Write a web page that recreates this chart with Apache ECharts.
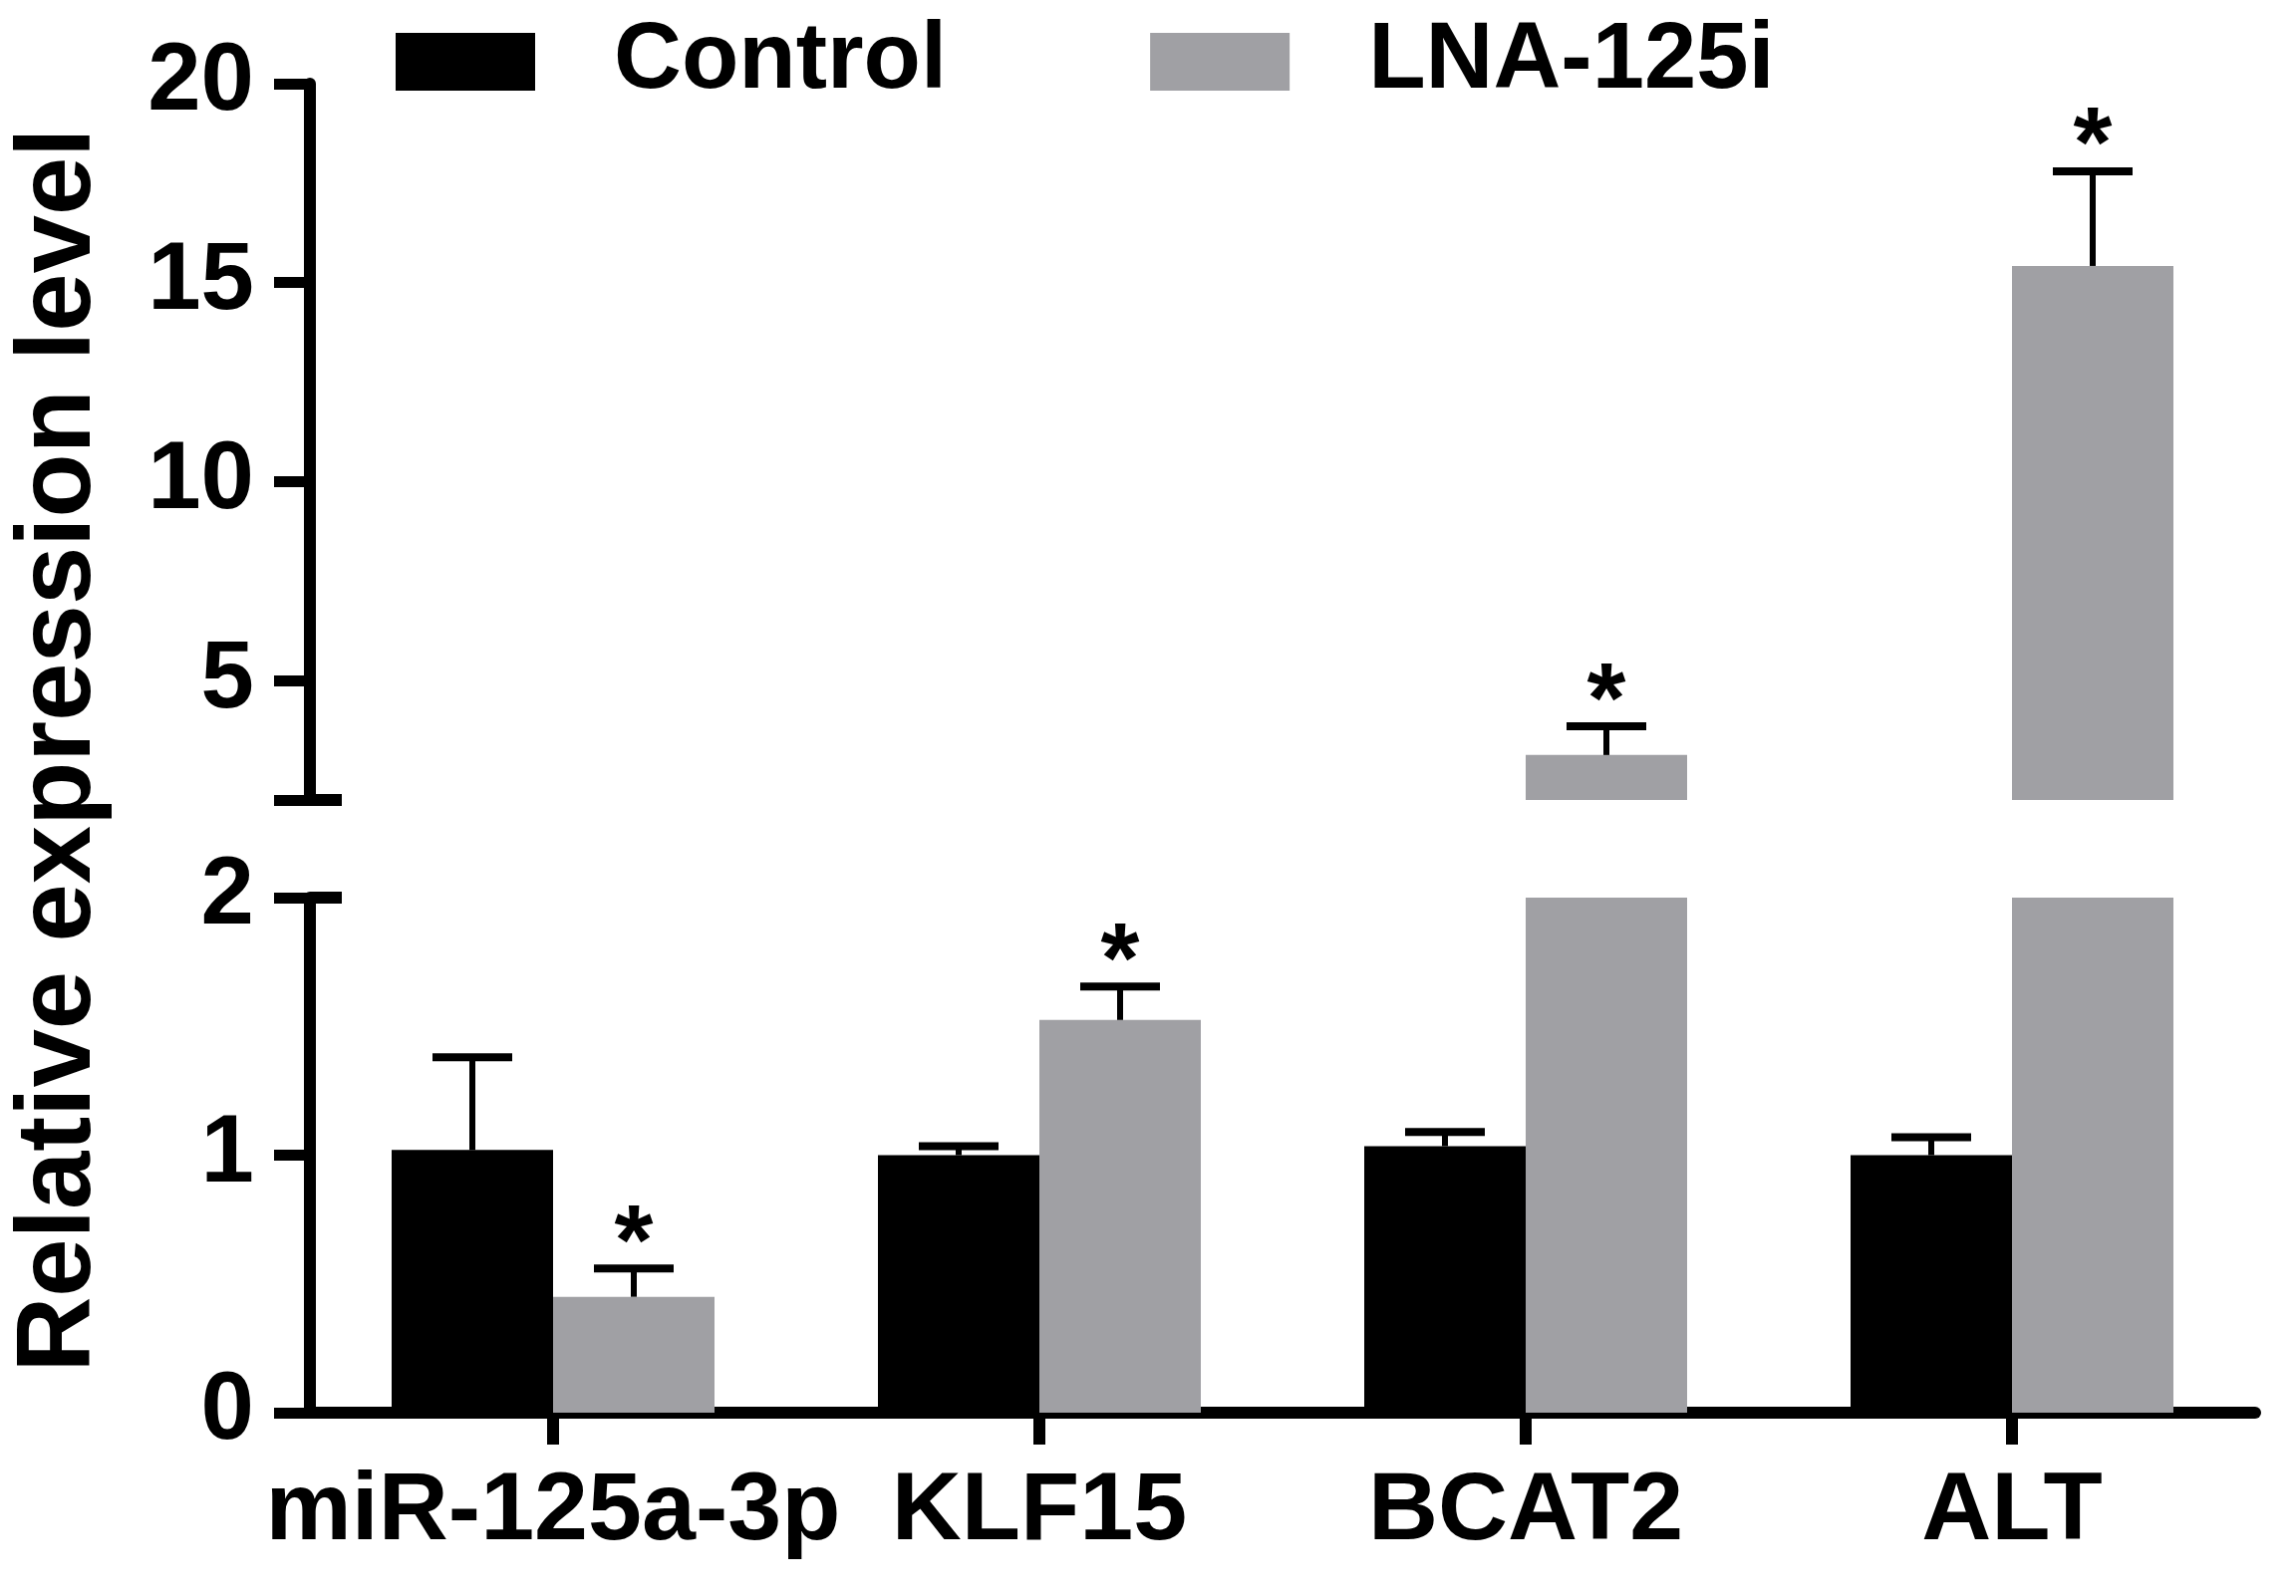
<!DOCTYPE html>
<html>
<head>
<meta charset="utf-8">
<script src="https://cdn.jsdelivr.net/npm/echarts@6/dist/echarts.min.js"></script>
<style>html,body{margin:0;padding:0;background:#fff;}#chart{width:2304px;height:1602px;}</style>
</head>
<body>
<div id="chart"></div>
<script>
// ---- data ----
const categories = ['miR-125a-3p', 'KLF15', 'BCAT2', 'ALT'];
const controlMean = [1.02, 1.00, 1.035, 1.00];
const controlErrTop = [1.38, 1.035, 1.09, 1.07];
const controlStar = [0, 0, 0, 0];
const lnaMean = [0.45, 1.525, 3.13, 15.42];
const lnaErrTop = [0.56, 1.655, 3.85, 17.8];
const lnaStar = [1, 1, 1, 1];
const lowerTicks = [0, 1, 2];
const upperTicks = [2, 5, 10, 15, 20];
const upperLabels = [5, 10, 15, 20];
const breakValue = 2;
const yName = 'Relative expression level';

// ---- style ----
const FONT = '"Liberation Sans", Arial, sans-serif';
const BLACK = '#000000';
const GRAY = '#a0a0a4';
const BAR_W = 162;
const GRID_L = 311, GRID_R = 41;

function barSeries(name, data, color, gi) {
  return {
    type: 'bar', name: name, data: data,
    xAxisIndex: gi, yAxisIndex: gi === 0 ? 0 : 2,
    barWidth: BAR_W, barGap: '0%',
    itemStyle: { color: color },
    clip: true, silent: true, animation: false
  };
}

function errSeries(means, tops, stars, sign, gi, yMin, yMax) {
  return {
    type: 'custom',
    xAxisIndex: gi, yAxisIndex: gi === 0 ? 0 : 2,
    data: categories.map((c, i) => [i, means[i], tops[i], stars[i]]),
    clip: false, silent: true, animation: false, z: 5,
    renderItem: function (params, api) {
      const i = api.value(0), m = api.value(1), e = api.value(2), s = api.value(3);
      if (m < yMin || e > yMax) return null;
      const p0 = api.coord([i, m]);
      const p1 = api.coord([i, e]);
      const x = p0[0] + sign * BAR_W / 2;
      const children = [
        { type: 'line', shape: { x1: x, y1: p0[1], x2: x, y2: p1[1] }, style: { stroke: BLACK, lineWidth: 6 } },
        { type: 'line', shape: { x1: x - 40, y1: p1[1], x2: x + 40, y2: p1[1] }, style: { stroke: BLACK, lineWidth: 8 } }
      ];
      if (s) {
        children.push({ type: 'text', x: x, y: p1[1] - 22, style: { text: '*', fill: BLACK, font: 'bold 100px ' + FONT, align: 'center', verticalAlign: 'middle' } });
      }
      return { type: 'group', children: children };
    }
  };
}

const chart = echarts.init(document.getElementById('chart'), null, { renderer: 'canvas' });
const labelStyle = { color: BLACK, fontFamily: FONT, fontWeight: 'bold', fontSize: 96 };

const option = {
  backgroundColor: '#fff',
  animation: false,
  legend: {
    left: 392, top: 10,
    itemWidth: 140, itemHeight: 58, itemGap: 204,
    icon: 'rect',
    data: ['Control', 'LNA-125i'],
    textStyle: { color: BLACK, fontFamily: FONT, fontWeight: 'bold', fontSize: 94, lineHeight: 58, padding: [0, 0, 0, 74] },
    selectedMode: false
  },
  grid: [
    { left: GRID_L, right: GRID_R, top: 84, height: 719 },
    { left: GRID_L, right: GRID_R, top: 901, height: 517 }
  ],
  xAxis: [
    { type: 'category', gridIndex: 0, data: categories, show: false },
    {
      type: 'category', gridIndex: 1, data: categories,
      axisLine: { show: true, lineStyle: { color: BLACK, width: 12 } },
      axisTick: { show: true, alignWithLabel: true, length: 32, lineStyle: { color: BLACK, width: 12 } },
      axisLabel: { interval: 0, margin: 52, fontSize: 97, color: BLACK, fontFamily: FONT, fontWeight: 'bold' }
    }
  ],
  yAxis: [
    {
      type: 'value', gridIndex: 0, min: breakValue, max: 20,
      splitLine: { show: false },
      axisLine: { show: true, lineStyle: { color: BLACK, width: 12 } },
      axisTick: { show: true, customValues: upperTicks, length: 36, lineStyle: { color: BLACK, width: 11 } },
      axisLabel: Object.assign({ customValues: upperLabels, margin: 56 }, labelStyle)
    },
    {
      type: 'value', gridIndex: 0, min: breakValue, max: 20, position: 'left',
      splitLine: { show: false }, axisLine: { show: false },
      axisTick: { show: true, inside: true, customValues: [breakValue], length: 32, lineStyle: { color: BLACK, width: 12 } },
      axisLabel: { show: false }
    },
    {
      type: 'value', gridIndex: 1, min: 0, max: breakValue,
      splitLine: { show: false },
      axisLine: { show: true, lineStyle: { color: BLACK, width: 12 } },
      axisTick: { show: true, customValues: lowerTicks, length: 36, lineStyle: { color: BLACK, width: 11 } },
      axisLabel: Object.assign({ customValues: lowerTicks, margin: 56 }, labelStyle)
    },
    {
      type: 'value', gridIndex: 1, min: 0, max: breakValue, position: 'left',
      splitLine: { show: false }, axisLine: { show: false },
      axisTick: { show: true, inside: true, customValues: [breakValue], length: 32, lineStyle: { color: BLACK, width: 12 } },
      axisLabel: { show: false }
    }
  ],
  graphic: [
    {
      type: 'text', x: 61, y: 753, rotation: Math.PI / 2,
      style: { text: yName, fill: BLACK, font: 'bold 105px ' + FONT, align: 'center', verticalAlign: 'middle' }
    }
  ],
  series: [
    barSeries('Control', controlMean, BLACK, 0),
    barSeries('LNA-125i', lnaMean, GRAY, 0),
    barSeries('Control', controlMean, BLACK, 1),
    barSeries('LNA-125i', lnaMean, GRAY, 1),
    errSeries(controlMean, controlErrTop, controlStar, -1, 0, breakValue, Infinity),
    errSeries(lnaMean, lnaErrTop, lnaStar, 1, 0, breakValue, Infinity),
    errSeries(controlMean, controlErrTop, controlStar, -1, 1, -Infinity, breakValue),
    errSeries(lnaMean, lnaErrTop, lnaStar, 1, 1, -Infinity, breakValue)
  ]
};
chart.setOption(option);
</script>
</body>
</html>
